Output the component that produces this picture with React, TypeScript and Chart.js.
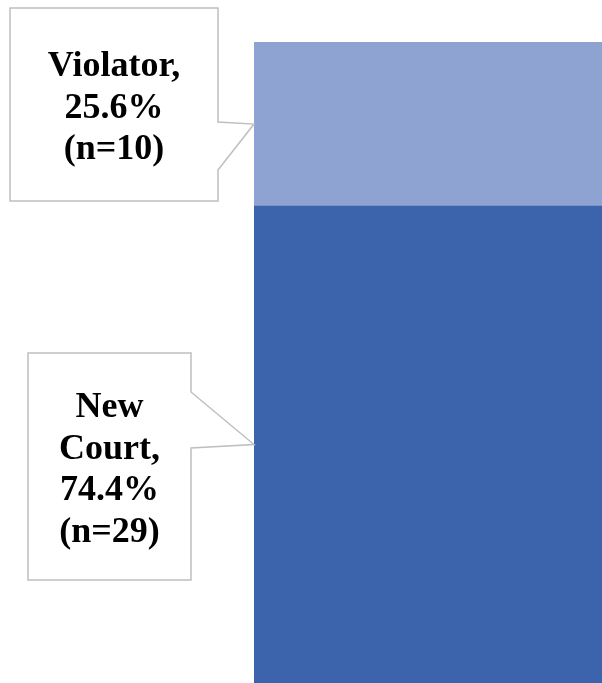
import React, { useEffect, useRef } from "react";
import { Chart, registerables } from "chart.js";

Chart.register(...registerables);

const categories = ["Total"];
const seriesNames = ["New Court", "Violator"];
const seriesPercents = [74.4, 25.6];
const seriesCounts = [29, 10];
const seriesColors = ["#3C64AC", "#8FA3D3"];

// callout box geometry (styling), indexed like the series
const calloutBoxes = [
  { left: 28, top: 353, right: 191, bottom: 580, baseTop: 392, baseBottom: 448 },
  { left: 10, top: 8, right: 218, bottom: 201, baseTop: 122, baseBottom: 170 },
];

const FONT_SIZE = 36;
const LINE_H = 41.5;
const FONT = `bold ${FONT_SIZE}px "Liberation Serif", "Times New Roman", serif`;

function wrap(ctx: CanvasRenderingContext2D, text: string, maxW: number): string[] {
  const words = text.split(" ");
  const lines: string[] = [];
  let cur = "";
  for (const w of words) {
    const t = cur ? cur + " " + w : w;
    if (ctx.measureText(t).width > maxW && cur) {
      lines.push(cur);
      cur = w;
    } else cur = t;
  }
  if (cur) lines.push(cur);
  return lines;
}

const calloutPlugin = {
  id: "callouts",
  afterDraw(chart: any) {
    const ctx: CanvasRenderingContext2D = chart.ctx;
    ctx.save();
    ctx.font = FONT;
    chart.data.datasets.forEach((ds: any, i: number) => {
      const meta = chart.getDatasetMeta(i);
      const el = meta.data[0];
      if (!el) return;
      const props = el.getProps(["x", "y", "base", "width"], true);
      const tipX = props.x - props.width / 2;
      const tipY = (props.y + props.base) / 2;
      const b = calloutBoxes[i];
      ctx.beginPath();
      ctx.moveTo(b.left, b.top);
      ctx.lineTo(b.right, b.top);
      ctx.lineTo(b.right, b.baseTop);
      ctx.lineTo(tipX, tipY);
      ctx.lineTo(b.right, b.baseBottom);
      ctx.lineTo(b.right, b.bottom);
      ctx.lineTo(b.left, b.bottom);
      ctx.closePath();
      ctx.fillStyle = "#ffffff";
      ctx.fill();
      ctx.strokeStyle = "#BFBFBF";
      ctx.lineWidth = 1.5;
      ctx.stroke();

      const text = `${seriesNames[i]}, ${seriesPercents[i].toFixed(1)}% (n=${seriesCounts[i]})`;
      const lines = wrap(ctx, text, b.right - b.left - 16);
      const cx = (b.left + b.right) / 2;
      const cy = (b.top + b.bottom) / 2;
      ctx.fillStyle = "#000000";
      ctx.textAlign = "center";
      ctx.textBaseline = "alphabetic";
      lines.forEach((ln, k) => {
        const y = cy + (k - (lines.length - 1) / 2) * LINE_H + 13;
        ctx.fillText(ln, cx, y);
      });
    });
    ctx.restore();
  },
};

export default function App() {
  const ref = useRef<HTMLCanvasElement>(null);
  useEffect(() => {
    if (!ref.current) return;
    const chart = new Chart(ref.current, {
      type: "bar",
      data: {
        labels: categories,
        datasets: seriesNames.map((n, i) => ({
          label: n,
          data: [seriesPercents[i]],
          backgroundColor: seriesColors[i],
          borderWidth: 0,
          categoryPercentage: 1,
          barPercentage: 1,
        })),
      },
      options: {
        animation: false,
        responsive: false,
        maintainAspectRatio: false,
        layout: { padding: { left: 254, top: 42, right: 0, bottom: 0 } },
        plugins: { legend: { display: false }, tooltip: { enabled: false } },
        scales: {
          x: { stacked: true, display: false },
          y: { stacked: true, display: false, min: 0, max: 100 },
        },
      },
      plugins: [calloutPlugin],
    });
    return () => chart.destroy();
  }, []);
  return (
    <div style={{ position: "fixed", left: 0, top: 0, width: 602, height: 683, background: "#fff" }}>
      <canvas ref={ref} width={602} height={683} style={{ display: "block" }} />
    </div>
  );
}
